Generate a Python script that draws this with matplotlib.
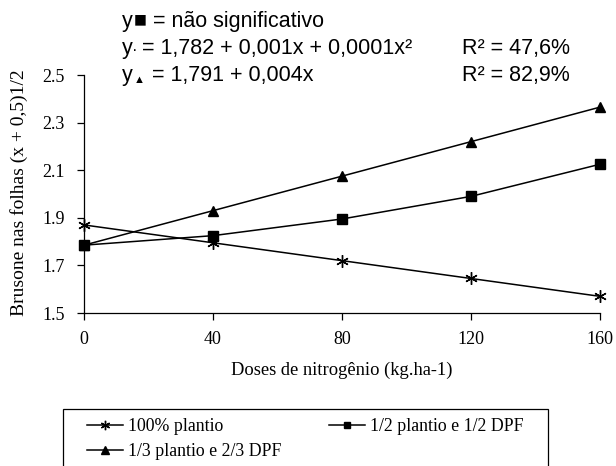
import matplotlib
matplotlib.use("Agg")
import matplotlib.pyplot as plt
from matplotlib.patches import Rectangle

# data
doses = [0, 40, 80, 120, 160]
plantio_100 = [1.870, 1.795, 1.720, 1.645, 1.570]
plantio_meio = [1.785, 1.825, 1.895, 1.990, 2.125]
plantio_terco = [1.785, 1.930, 2.075, 2.220, 2.365]
labels = ["100% plantio", "1/2 plantio e 1/2 DPF", "1/3 plantio e 2/3 DPF"]
yticks = [1.5, 1.7, 1.9, 2.1, 2.3, 2.5]

serif = ["Liberation Serif", "DejaVu Serif"]
sans = ["Liberation Sans", "DejaVu Sans"]

fig = plt.figure(figsize=(6.16, 4.66), dpi=100)
ax = fig.add_axes([84 / 616, 1 - 313 / 466, 516 / 616, 238 / 466])

kw = dict(color="black", lw=1.1, clip_on=False)
l1, = ax.plot(doses, plantio_100, marker=(6, 2, 0), ms=9, mew=1.0, **kw)
l2, = ax.plot(doses, plantio_meio, marker="s", ms=6.5, **kw)
l3, = ax.plot(doses, plantio_terco, marker="^", ms=7.5, **kw)

ax.set_xlim(0, 160)
ax.set_ylim(1.5, 2.5)
ax.set_xticks(doses)
ax.set_yticks(yticks)
ax.set_yticklabels([f"{v:.1f}" for v in yticks])
for s in ["top", "right"]:
    ax.spines[s].set_visible(False)
for s in ["left", "bottom"]:
    ax.spines[s].set_linewidth(0.9)
ax.tick_params(direction="out", length=5, width=0.9, labelsize=13)
ax.tick_params(axis="x", pad=8)
ax.tick_params(axis="y", pad=9)
for t in ax.get_xticklabels() + ax.get_yticklabels():
    t.set_family(serif)

fig.text(342 / 616, 1 - 375 / 466, "Doses de nitrogênio (kg.ha-1)",
         family=serif, fontsize=13.3, ha="center", va="baseline")
fig.text(19 / 616, 1 - 193 / 466, "Brusone nas folhas (x + 0,5)1/2",
         family=serif, fontsize=14, ha="center", va="center", rotation=90)

# regression equations
fs = 15.5
fig.text(122 / 616, 1 - 27 / 466, "y", family=sans, fontsize=fs)
fig.text(134 / 616, 1 - 27 / 466, "■ = não significativo", family=sans, fontsize=fs)
fig.text(122 / 616, 1 - 54 / 466, "y", family=sans, fontsize=fs)
fig.text(132 / 616, 1 - 55 / 466, "·", family=sans, fontsize=12)
fig.text(142 / 616, 1 - 54 / 466, "= 1,782 + 0,001x + 0,0001x²", family=sans, fontsize=fs)
fig.text(122 / 616, 1 - 81 / 466, "y", family=sans, fontsize=fs)
fig.text(134 / 616, 1 - 83 / 466, "▲", family=sans, fontsize=8)
fig.text(152 / 616, 1 - 81 / 466, "= 1,791 + 0,004x", family=sans, fontsize=fs)
fig.text(462 / 616, 1 - 54 / 466, "R² = 47,6%", family=sans, fontsize=fs)
fig.text(462 / 616, 1 - 81 / 466, "R² = 82,9%", family=sans, fontsize=fs)

# legend box (runs off the bottom edge)
fig.patches.append(Rectangle((63 / 616, -0.05), 485 / 616, 0.05 + 1 - 409 / 466,
                             transform=fig.transFigure, fill=False,
                             edgecolor="black", lw=0.9))
# column-major fill: put the third entry under the first
fig.legend([l1, l3, l2], [labels[0], labels[2], labels[1]], ncol=2, frameon=False,
           loc="upper left", bbox_to_anchor=(87 / 616, 1 - 418 / 466),
           prop={"family": serif, "size": 12.8}, handlelength=2.0,
           handletextpad=0.3, columnspacing=2.7, labelspacing=0.45,
           borderpad=0, borderaxespad=0, markerscale=0.75)

fig.savefig("out.png", dpi=100)
